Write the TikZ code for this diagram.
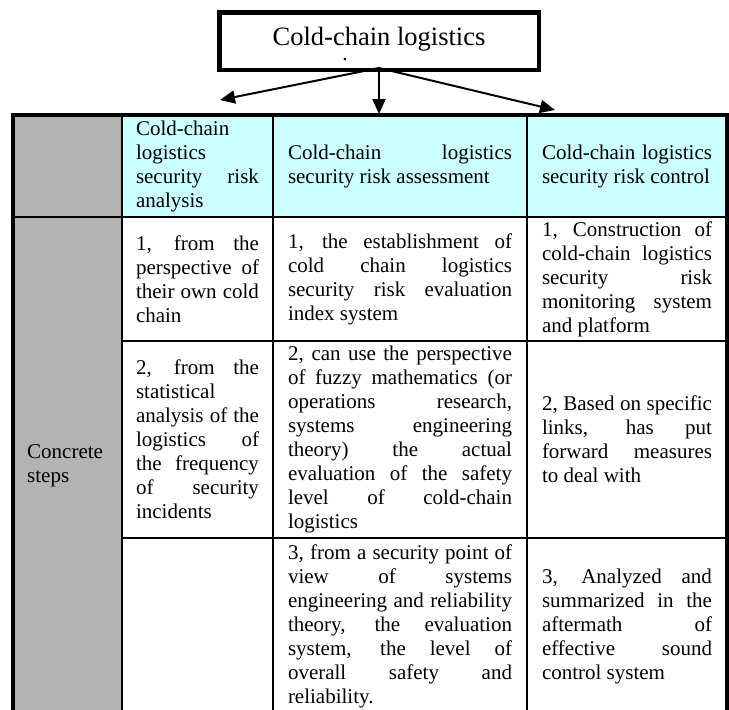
\documentclass[tikz,border=0pt]{standalone}
\usepackage{fontspec}
\setmainfont{Liberation Serif}
\usetikzlibrary{positioning, arrows.meta}
\definecolor{stepGray}{RGB}{179,179,179}
\definecolor{headCyan}{RGB}{204,255,255}
\newcommand{\cellFont}{\fontsize{21}{24}\selectfont\tolerance=10000\hbadness=10000\hyphenpenalty=10000\exhyphenpenalty=10000}
\tikzstyle{titleBox} = [
    rectangle,
    draw,
    line width=4.5pt,
    minimum width=319.5pt,
    minimum height=57.5pt,
    font=\fontsize{26.5}{30}\selectfont
    ]
\tikzstyle{forkArrow} = [
    line width=2pt,
    -{Triangle[length=15pt,width=13pt]}
    ]
\tikzstyle{tableRule} = [
    line width=2pt
    ]
\tikzstyle{tableFrame} = [
    line width=3.5pt
    ]
\tikzstyle{cellText} = [
    inner sep=0pt,
    align=justify,
    font=\cellFont
    ]
\tikzstyle{analysisCol} = [
    cellText,
    text width=123pt
    ]
\tikzstyle{assessCol} = [
    cellText,
    text width=224pt
    ]
\tikzstyle{controlCol} = [
    cellText,
    text width=170pt
    ]

\begin{document}
\begin{tikzpicture}[x=1pt,y=-1pt]
      \useasboundingbox (0,0) rectangle (729,710);
      % title and its three arrows
      \node[titleBox] at (379,41) (title) {};
      \node[font=\fontsize{26.5}{30}\selectfont, inner sep=0pt, anchor=base] at (379,45) (titleText) {Cold-chain logistics};
      \node[font=\cellFont, inner sep=0pt, anchor=base] at (345,60) (titleDot) {.};
      \coordinate (fork) at ([yshift=4pt]title.south);
      \coordinate (leftTip) at (220,100);
      \coordinate (midTip) at (379,114);
      \coordinate (rightTip) at (555,110);
      \draw[forkArrow] (fork) -- (leftTip);
      \draw[forkArrow] (fork) -- (midTip);
      \draw[forkArrow] (fork) -- (rightTip);
      % table
      \fill[stepGray] (13,115) rectangle (122,714);
      \fill[headCyan] (122,115) rectangle (727,217);
      \draw[tableRule] (13,217) -- (727,217);
      \draw[tableRule] (122,341) -- (727,341);
      \draw[tableRule] (122,538) -- (727,538);
      \draw[tableRule] (122,115) -- (122,714);
      \draw[tableRule] (273,115) -- (273,714);
      \draw[tableRule] (527,115) -- (527,714);
      \draw[tableFrame] (13,115) rectangle (727,714);
      % header row
      \node[analysisCol] at (197.5,166) (analysisHead) {Cold-chain\linebreak logistics\linebreak security risk\linebreak analysis};
      \node[assessCol] at (400,166) (assessHead) {Cold-chain logistics\linebreak security risk assessment};
      \node[controlCol] at (627,166) (controlHead) {Cold-chain logistics\linebreak security risk control};
      \node[cellText, anchor=west, align=left, text width=90pt] at (27,465.5) (steps) {Concrete\\steps};
      % row 1
      \node[analysisCol] at (197.5,279) (analysisOne) {1, from the\linebreak perspective of\linebreak their own cold\linebreak chain};
      \node[assessCol] at (400,279) (assessOne) {1, the establishment of\linebreak cold chain logistics\linebreak security risk evaluation\linebreak index system};
      \node[controlCol] at (627,279) (controlOne) {1, Construction of\linebreak cold-chain logistics\linebreak security risk\linebreak monitoring system\linebreak and platform};
      % row 2
      \node[analysisCol] at (197.5,439.5) (analysisTwo) {2, from the\linebreak statistical\linebreak analysis of the\linebreak logistics of\linebreak the frequency\linebreak of security\linebreak incidents};
      \node[assessCol] at (400,439.5) (assessTwo) {2, can use the perspective\linebreak of fuzzy mathematics (or\linebreak operations research,\linebreak systems engineering\linebreak theory) the actual\linebreak evaluation of the safety\linebreak level of cold-chain\linebreak logistics};
      \node[controlCol] at (627,439.5) (controlTwo) {2, Based on specific\linebreak links, has put\linebreak forward measures\linebreak to deal with};
      % row 3
      \node[assessCol] at (400,626) (assessThree) {3, from a security point of\linebreak view of systems\linebreak engineering and reliability\linebreak theory, the evaluation\linebreak system, the level of\linebreak overall safety and\linebreak reliability.};
      \node[controlCol] at (627,626) (controlThree) {3, Analyzed and\linebreak summarized in the\linebreak aftermath of\linebreak effective sound\linebreak control system};
    \end{tikzpicture}
\end{document}
